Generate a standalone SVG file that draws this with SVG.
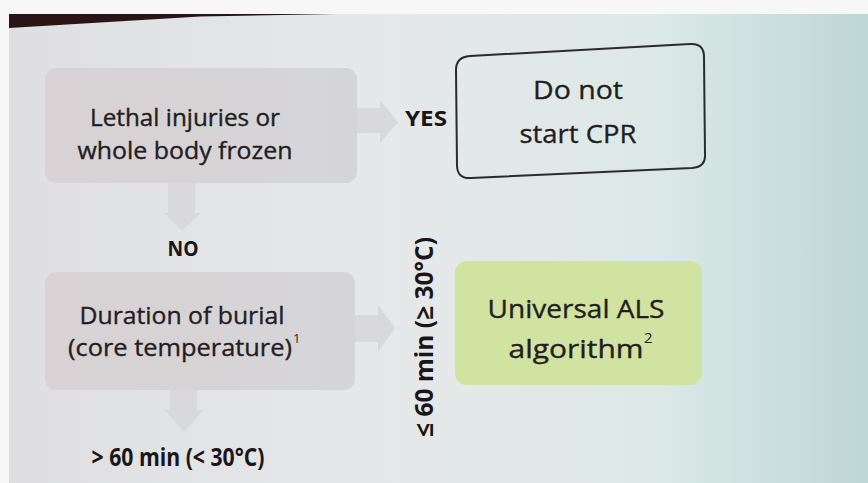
<svg xmlns="http://www.w3.org/2000/svg" width="868" height="483" viewBox="0 0 868 483">
  <defs>
    <linearGradient id="bg" x1="0" y1="0" x2="1" y2="0">
      <stop offset="0" stop-color="#dfdfe1"/>
      <stop offset="0.45" stop-color="#e6e8e9"/>
      <stop offset="0.75" stop-color="#dce9e7"/>
      <stop offset="1" stop-color="#bed7d6"/>
    </linearGradient>
    <linearGradient id="boxg" x1="0" y1="0" x2="1" y2="0">
      <stop offset="0" stop-color="#d8d2d4"/>
      <stop offset="1" stop-color="#d5d5d7"/>
    </linearGradient>
    <style>
      .box { fill: url(#boxg); }
      .arrow { fill: #d9d9db; }
      .t { font-family: "Open Sans", "Liberation Sans", sans-serif; fill: #231d1f; stroke: #231d1f; stroke-width: 0.35; text-anchor: middle; }
      .b { font-family: "Open Sans", "Liberation Sans", sans-serif; font-weight: bold; fill: #1a1618; text-anchor: middle; }
      .sup { font-family: "Open Sans", "Liberation Sans", sans-serif; fill: #231d1f; }
    </style>
  </defs>

  <!-- photo frame -->
  <rect x="0" y="0" width="868" height="483" fill="#f7f7f7"/>
  <rect x="9" y="14" width="859" height="469" fill="url(#bg)"/>
  <polygon points="9,14 335,14 200,16.5 9,28" fill="#2a1416"/>

  <g id="connectors">
    <!-- box1 -> YES -->
    <polygon class="arrow" points="355,108 380,108 380,100 398,122 380,143 380,133 355,133"/>
    <!-- box1 -> NO -->
    <polygon class="arrow" points="168,183 195,183 195,213 201,213 182,231 164,213 168,213"/>
    <!-- box2 -> right -->
    <polygon class="arrow" points="353,315 378,315 378,305 395,328 378,352 378,342 353,342"/>
    <!-- box2 -> down -->
    <polygon class="arrow" points="170,390 197,390 197,410 203,410 184,432 165,410 170,410"/>
  </g>

  <g id="n1">
    <rect class="box" x="45" y="68" width="312" height="115" rx="11"/>
    <text class="t" x="185" y="126" font-size="23" textLength="190" lengthAdjust="spacingAndGlyphs">Lethal injuries or</text>
    <text class="t" x="185" y="159" font-size="23" textLength="215" lengthAdjust="spacingAndGlyphs">whole body frozen</text>
  </g>

  <g id="yes">
    <text class="b" x="426" y="126" font-size="22" textLength="42" lengthAdjust="spacingAndGlyphs">YES</text>
  </g>

  <g id="n2">
    <path d="M 470,56 L 690,44 Q 704,43 704,57 L 705,154 Q 706,167 692,168 L 471,178 Q 457,179 457,165 L 456,70 Q 456,57 470,56 Z" fill="none" stroke="#2b2b2d" stroke-width="2"/>
    <text class="t" x="578" y="99" font-size="26" textLength="90" lengthAdjust="spacingAndGlyphs">Do not</text>
    <text class="t" x="578" y="143" font-size="26" textLength="117" lengthAdjust="spacingAndGlyphs">start CPR</text>
  </g>

  <g id="no">
    <text class="b" x="183" y="256" font-size="22" textLength="31" lengthAdjust="spacingAndGlyphs">NO</text>
  </g>

  <g id="n3">
    <rect class="box" x="45" y="272" width="310" height="118" rx="11"/>
    <text class="t" x="182" y="324" font-size="24" textLength="205" lengthAdjust="spacingAndGlyphs">Duration of burial</text>
    <text class="t" x="180" y="356" font-size="24" textLength="224" lengthAdjust="spacingAndGlyphs">(core temperature)</text>
    <text class="sup" x="293" y="343" font-size="13">1</text>
  </g>

  <g id="le60">
    <text class="b" transform="translate(433,337) rotate(-90)" x="0" y="0" font-size="25" textLength="200" lengthAdjust="spacingAndGlyphs">≤ 60 min (≥ 30°C)</text>
  </g>

  <g id="n4">
    <rect x="455" y="261" width="247" height="124" rx="12" fill="#d0e3a0"/>
    <text class="t" x="576" y="318" font-size="26" textLength="177" lengthAdjust="spacingAndGlyphs">Universal ALS</text>
    <text class="t" x="576" y="358" font-size="26" textLength="135" lengthAdjust="spacingAndGlyphs">algorithm</text>
    <text class="sup" x="644" y="343" font-size="15">2</text>
  </g>

  <g id="gt60">
    <text class="b" x="178" y="466" font-size="25" textLength="173" lengthAdjust="spacingAndGlyphs">&gt; 60 min (&lt; 30°C)</text>
  </g>
</svg>
